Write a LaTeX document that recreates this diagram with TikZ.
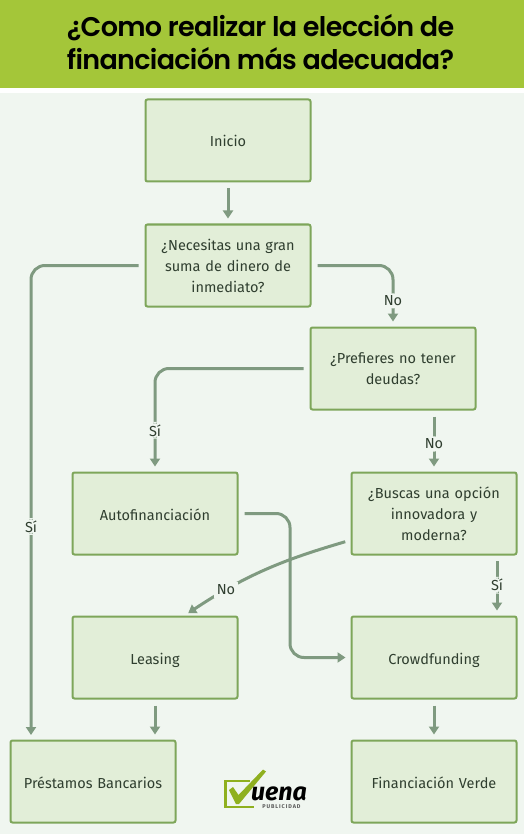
\documentclass[tikz,border=0pt]{standalone}
\usepackage{fontspec}
\setmainfont{Fira Sans}
\newfontfamily\titlefont[LetterSpace=-2.5]{Poppins SemiBold}
\usetikzlibrary{arrows.meta,positioning,calc}
\definecolor{headgreen}{HTML}{A4C639}
\definecolor{pagegreen}{HTML}{F0F6F0}
\definecolor{boxgreen}{HTML}{E2EED8}
\definecolor{boxline}{HTML}{7EA65A}
\definecolor{linkgreen}{HTML}{7F9A80}
\definecolor{textgreen}{HTML}{2F3E2F}
\definecolor{logogreen}{HTML}{8FB01F}
\newcommand{\lowtext}[1]{\raisebox{-5pt}[6pt][3pt]{#1}}
\tikzset{
	stepbox/.style={
		draw=boxline,
		fill=boxgreen,
		line width=2pt,
		rounded corners=2pt,
		minimum width=165pt,
		minimum height=82pt,
		inner sep=2pt,
		text width=155pt,
		align=center,
		text=textgreen,
		font=\fontsize{14.5}{21}\selectfont
	},
	link/.style={
		draw=linkgreen,
		line width=3pt,
		rounded corners=14pt,
		-{Triangle[length=8pt,width=10pt]},
		shorten <=6pt,
		shorten >=5pt
	},
	tag/.style={
		fill=pagegreen,
		inner sep=2.5pt,
		text=textgreen,
		font=\fontsize{14.5}{16}\selectfont
	}
}
\begin{document}
\begin{tikzpicture}[x=1pt,y=-1pt]
		
		\fill[pagegreen] (0,0) rectangle (524,834);
		\useasboundingbox (0,0) rectangle (524,834);
		\fill[white] (0,88) rectangle (524,93);
		\fill[headgreen] (0,0) rectangle (524,88);
		\node (title) [align=center,inner sep=0pt,text=black,font=\titlefont\fontsize{27}{33.5}\selectfont] at (260.5,42) {¿Como realizar la elección de\\financiación más adecuada?};
		
		\node[stepbox] (inicio) at (228,140.5) {\lowtext{Inicio}};
		\node[stepbox] (dinero) [below=41pt of inicio] {¿Necesitas una gran\\suma de dinero de\\inmediato?};
		\node[stepbox] (deudas) at (393,368.5) {¿Prefieres no tener\\deudas?};
		\node[stepbox] (auto) at (155,513.5) {\lowtext{Autofinanciación}};
		\node[stepbox] (buscas) at (434,513.5) {¿Buscas una opción\\innovadora y\\moderna?};
		\node[stepbox] (leasing) at (155,657.5) {\lowtext{Leasing}};
		\node[stepbox] (crowd) at (434,657.5) {\lowtext{Crowdfunding}};
		\node[stepbox] (prestamos) at (93,781.5) {\lowtext{Préstamos Bancarios}};
		\node[stepbox] (verde) at (434,781.5) {\lowtext{Financiación Verde}};
		
		\coordinate (prestin) at (31,740);
		\coordinate (siout) at (497,555);
		\coordinate (noout) at (351,540);
		\coordinate (noin) at (184,616);
		\coordinate (midauto) at (290,585);
		
		\draw[link] (inicio)--(dinero);
		\draw[link] (dinero.west) -| node[tag,pos=0.775] (si1) {Sí} (prestin);
		\draw[link] (dinero.east) -| node[tag,pos=0.79] (no1) {No} (deudas.north);
		\draw[link] (deudas.west) -| node[tag,pos=0.8] (si2) {Sí} (auto.north);
		\draw[link] (deudas.south -| buscas.north) -- node[tag,pos=0.55] (no2) {No} (buscas.north);
		\draw[link] (siout) -- node[tag,pos=0.5] (si3) {Sí} (siout |- crowd.north);
		\draw[link,rounded corners=0pt] (noout) .. controls (290,558) and (250,572) .. node[tag,pos=0.77] (no3) {No} (noin);
		\draw[link] (auto.east) -| (midauto) |- (crowd.west);
		\draw[link] (leasing.south) -- (leasing.south |- prestamos.north);
		\draw[link] (crowd)--(verde);
		
		% logo
		\draw[logogreen,line width=2.6pt] (250,781) -- (225.5,781) -- (225.5,807) -- (254,807);
		\fill[logogreen] (229,790) -- (233,787) -- (238.5,795) -- (263,769.5) -- (266,771.5) -- (239,804) -- (236,804) -- cycle;
		\node (uena) [inner sep=0pt,text=black,font=\bfseries\itshape\fontsize{25}{25}\selectfont] at (279,794) {uena};
		\node (publicidad) [inner sep=0pt,text=black!65,font=\bfseries\fontsize{5.5}{6}\selectfont] at (281.5,806.5) {P\,U\,B\,L\,I\,C\,I\,D\,A\,D};
		
	\end{tikzpicture}
\end{document}
